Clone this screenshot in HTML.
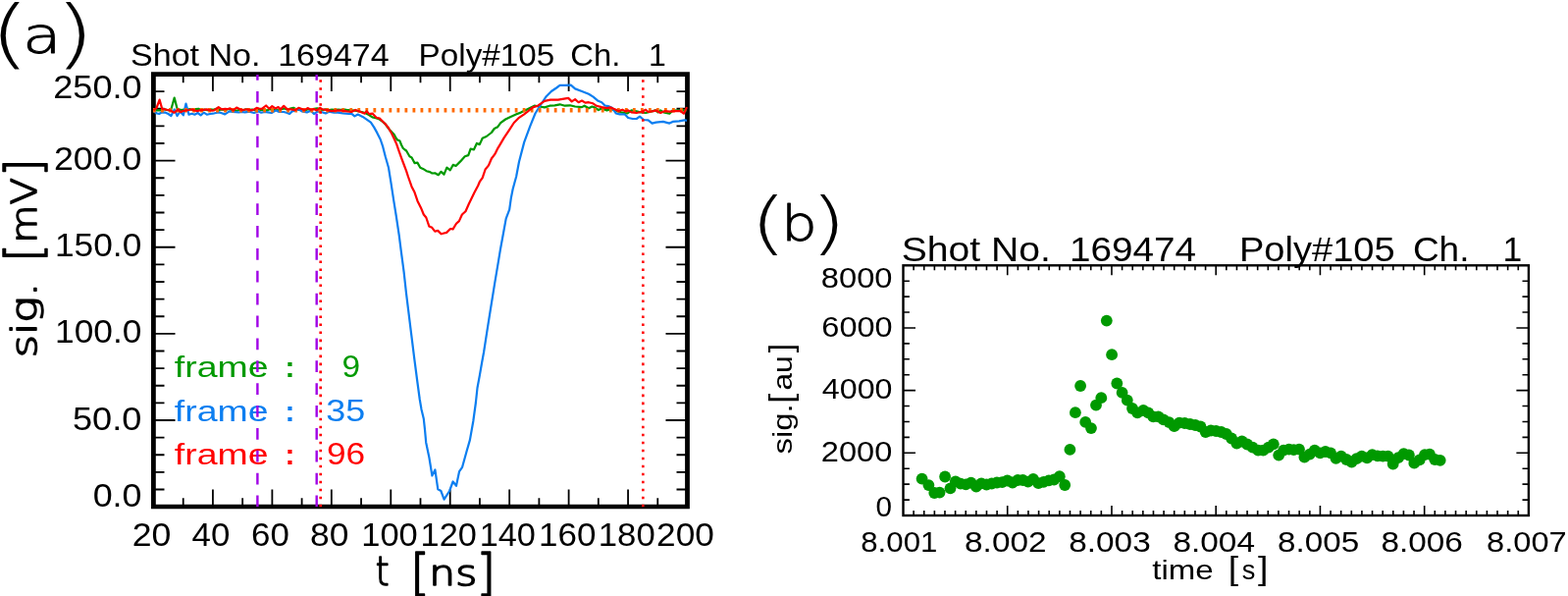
<!DOCTYPE html>
<html><head><meta charset="utf-8"><title>Shot No. 169474 Poly#105 Ch. 1</title>
<style>html,body{margin:0;padding:0;background:#fff;overflow:hidden}svg{display:block}</style></head>
<body><svg width="1598" height="607" viewBox="0 0 1598 607" font-family="'Liberation Sans', sans-serif">
<rect width="1598" height="607" fill="#fff"/>
<path d="M156.5 498.48H167.5M700.5 498.48H689.5M156.5 480.85H167.5M700.5 480.85H689.5M156.5 463.23H167.5M700.5 463.23H689.5M156.5 445.6H167.5M700.5 445.6H689.5M156.5 427.98H178.5M700.5 427.98H678.5M156.5 410.36H167.5M700.5 410.36H689.5M156.5 392.73H167.5M700.5 392.73H689.5M156.5 375.11H167.5M700.5 375.11H689.5M156.5 357.48H167.5M700.5 357.48H689.5M156.5 339.86H178.5M700.5 339.86H678.5M156.5 322.24H167.5M700.5 322.24H689.5M156.5 304.61H167.5M700.5 304.61H689.5M156.5 286.99H167.5M700.5 286.99H689.5M156.5 269.36H167.5M700.5 269.36H689.5M156.5 251.74H178.5M700.5 251.74H678.5M156.5 234.12H167.5M700.5 234.12H689.5M156.5 216.49H167.5M700.5 216.49H689.5M156.5 198.87H167.5M700.5 198.87H689.5M156.5 181.24H167.5M700.5 181.24H689.5M156.5 163.62H178.5M700.5 163.62H678.5M156.5 146H167.5M700.5 146H689.5M156.5 128.37H167.5M700.5 128.37H689.5M156.5 110.75H167.5M700.5 110.75H689.5M156.5 93.12H167.5M700.5 93.12H689.5M186.72 516.1V507.3M186.72 75.5V84.3M216.94 516.1V498.6M216.94 75.5V93M247.17 516.1V507.3M247.17 75.5V84.3M277.39 516.1V498.6M277.39 75.5V93M307.61 516.1V507.3M307.61 75.5V84.3M337.83 516.1V498.6M337.83 75.5V93M368.06 516.1V507.3M368.06 75.5V84.3M398.28 516.1V498.6M398.28 75.5V93M428.5 516.1V507.3M428.5 75.5V84.3M458.72 516.1V498.6M458.72 75.5V93M488.94 516.1V507.3M488.94 75.5V84.3M519.17 516.1V498.6M519.17 75.5V93M549.39 516.1V507.3M549.39 75.5V84.3M579.61 516.1V498.6M579.61 75.5V93M609.83 516.1V507.3M609.83 75.5V84.3M640.06 516.1V498.6M640.06 75.5V93M670.28 516.1V507.3M670.28 75.5V84.3" stroke="#000" stroke-width="1.8" fill="none"/>
<path d="M154 73.3h548.9v445h-548.9z M158.8 77.9v435.9h539.3v-435.9z" fill="#000" fill-rule="evenodd"/>
<path d="M931.12 525V520M931.12 270.3V275.3M941.75 525V520M941.75 270.3V275.3M952.37 525V520M952.37 270.3V275.3M962.99 525V520M962.99 270.3V275.3M973.62 525V520M973.62 270.3V275.3M984.24 525V520M984.24 270.3V275.3M994.86 525V520M994.86 270.3V275.3M1005.49 525V520M1005.49 270.3V275.3M1016.11 525V520M1016.11 270.3V275.3M1026.73 525V515M1026.73 270.3V280.3M1037.36 525V520M1037.36 270.3V275.3M1047.98 525V520M1047.98 270.3V275.3M1058.6 525V520M1058.6 270.3V275.3M1069.23 525V520M1069.23 270.3V275.3M1079.85 525V520M1079.85 270.3V275.3M1090.47 525V520M1090.47 270.3V275.3M1101.1 525V520M1101.1 270.3V275.3M1111.72 525V520M1111.72 270.3V275.3M1122.34 525V520M1122.34 270.3V275.3M1132.97 525V515M1132.97 270.3V280.3M1143.59 525V520M1143.59 270.3V275.3M1154.21 525V520M1154.21 270.3V275.3M1164.84 525V520M1164.84 270.3V275.3M1175.46 525V520M1175.46 270.3V275.3M1186.08 525V520M1186.08 270.3V275.3M1196.71 525V520M1196.71 270.3V275.3M1207.33 525V520M1207.33 270.3V275.3M1217.95 525V520M1217.95 270.3V275.3M1228.58 525V520M1228.58 270.3V275.3M1239.2 525V515M1239.2 270.3V280.3M1249.82 525V520M1249.82 270.3V275.3M1260.45 525V520M1260.45 270.3V275.3M1271.07 525V520M1271.07 270.3V275.3M1281.69 525V520M1281.69 270.3V275.3M1292.32 525V520M1292.32 270.3V275.3M1302.94 525V520M1302.94 270.3V275.3M1313.56 525V520M1313.56 270.3V275.3M1324.19 525V520M1324.19 270.3V275.3M1334.81 525V520M1334.81 270.3V275.3M1345.43 525V515M1345.43 270.3V280.3M1356.06 525V520M1356.06 270.3V275.3M1366.68 525V520M1366.68 270.3V275.3M1377.3 525V520M1377.3 270.3V275.3M1387.93 525V520M1387.93 270.3V275.3M1398.55 525V520M1398.55 270.3V275.3M1409.17 525V520M1409.17 270.3V275.3M1419.8 525V520M1419.8 270.3V275.3M1430.42 525V520M1430.42 270.3V275.3M1441.04 525V520M1441.04 270.3V275.3M1451.67 525V515M1451.67 270.3V280.3M1462.29 525V520M1462.29 270.3V275.3M1472.91 525V520M1472.91 270.3V275.3M1483.54 525V520M1483.54 270.3V275.3M1494.16 525V520M1494.16 270.3V275.3M1504.78 525V520M1504.78 270.3V275.3M1515.41 525V520M1515.41 270.3V275.3M1526.03 525V520M1526.03 270.3V275.3M1536.65 525V520M1536.65 270.3V275.3M1547.28 525V520M1547.28 270.3V275.3M920.5 509.08H926.9M1557.9 509.08H1551.5M920.5 493.16H926.9M1557.9 493.16H1551.5M920.5 477.24H926.9M1557.9 477.24H1551.5M920.5 461.32H933M1557.9 461.32H1545.4M920.5 445.41H926.9M1557.9 445.41H1551.5M920.5 429.49H926.9M1557.9 429.49H1551.5M920.5 413.57H926.9M1557.9 413.57H1551.5M920.5 397.65H933M1557.9 397.65H1545.4M920.5 381.73H926.9M1557.9 381.73H1551.5M920.5 365.81H926.9M1557.9 365.81H1551.5M920.5 349.89H926.9M1557.9 349.89H1551.5M920.5 333.98H933M1557.9 333.98H1545.4M920.5 318.06H926.9M1557.9 318.06H1551.5M920.5 302.14H926.9M1557.9 302.14H1551.5M920.5 286.22H926.9M1557.9 286.22H1551.5" stroke="#000" stroke-width="1.6" fill="none"/>
<rect x="920.5" y="270.3" width="637.4" height="254.7" fill="none" stroke="#000" stroke-width="2.4"/>
<text x="-11.21" y="60.1" font-size="76.4" font-family="DejaVu Sans" font-weight="200" textLength="42.09" lengthAdjust="spacingAndGlyphs">(</text>
<text x="23.08" y="53.6" font-size="52" font-family="DejaVu Sans" font-weight="200" stroke="#000" stroke-width="0.9" stroke-linejoin="round" textLength="39.66" lengthAdjust="spacingAndGlyphs">a</text>
<text x="55.21" y="60.1" font-size="76.4" font-family="DejaVu Sans" font-weight="200" textLength="41.83" lengthAdjust="spacingAndGlyphs">)</text>
<text x="133" y="67" font-size="32" textLength="132.51" lengthAdjust="spacingAndGlyphs">Shot No.</text>
<text x="283.18" y="67" font-size="32" textLength="113.44" lengthAdjust="spacingAndGlyphs">169474</text>
<text x="426.64" y="67" font-size="32" textLength="138.59" lengthAdjust="spacingAndGlyphs">Poly#105</text>
<text x="581.36" y="67" font-size="32" textLength="50.99" lengthAdjust="spacingAndGlyphs">Ch.</text>
<text x="661.06" y="67" font-size="32">1</text>
<text x="54.3" y="100.4" font-size="32.5" textLength="90.24" lengthAdjust="spacingAndGlyphs">250.0</text>
<text x="54.91" y="173.2" font-size="32.5" textLength="89.61" lengthAdjust="spacingAndGlyphs">200.0</text>
<text x="55.98" y="261.2" font-size="32.5" textLength="88.32" lengthAdjust="spacingAndGlyphs">150.0</text>
<text x="56.08" y="349.3" font-size="32.5" textLength="88.32" lengthAdjust="spacingAndGlyphs">100.0</text>
<text x="73.95" y="437.6" font-size="32.5" textLength="70.36" lengthAdjust="spacingAndGlyphs">50.0</text>
<text x="94.66" y="516.4" font-size="32.5" textLength="49.88" lengthAdjust="spacingAndGlyphs">0.0</text>
<text x="134.72" y="555.5" font-size="32.5" textLength="39.7" lengthAdjust="spacingAndGlyphs">20</text>
<text x="195.6" y="555.5" font-size="32.5" textLength="38.77" lengthAdjust="spacingAndGlyphs">40</text>
<text x="256.05" y="555.5" font-size="32.5" textLength="38.82" lengthAdjust="spacingAndGlyphs">60</text>
<text x="315.98" y="555.5" font-size="32.5" textLength="39.42" lengthAdjust="spacingAndGlyphs">80</text>
<text x="368.24" y="555.5" font-size="32.5" textLength="57.59" lengthAdjust="spacingAndGlyphs">100</text>
<text x="428.55" y="555.5" font-size="32.5" textLength="57.27" lengthAdjust="spacingAndGlyphs">120</text>
<text x="488.65" y="555.5" font-size="32.5" textLength="57.27" lengthAdjust="spacingAndGlyphs">140</text>
<text x="549.1" y="555.5" font-size="32.5" textLength="58.35" lengthAdjust="spacingAndGlyphs">160</text>
<text x="609.82" y="555.5" font-size="32.5" textLength="57.92" lengthAdjust="spacingAndGlyphs">180</text>
<text x="669.04" y="555.5" font-size="32.5" textLength="58.82" lengthAdjust="spacingAndGlyphs">200</text>
<text transform="translate(37.3 364.31) rotate(-90)" font-size="35" font-family="DejaVu Sans" font-weight="200" stroke="#000" stroke-width="1.5" stroke-linejoin="round" textLength="76.45" lengthAdjust="spacingAndGlyphs">sig.</text>
<text transform="translate(41.4 266.83) rotate(-90)" font-size="50.5" font-family="DejaVu Sans" font-weight="200" stroke="#000" stroke-width="1.5" stroke-linejoin="round" textLength="18.56" lengthAdjust="spacingAndGlyphs">[</text>
<text transform="translate(37.3 247.76) rotate(-90)" font-size="35" font-family="DejaVu Sans" font-weight="200" stroke="#000" stroke-width="1.5" stroke-linejoin="round" textLength="66.74" lengthAdjust="spacingAndGlyphs">mV</text>
<text transform="translate(41.4 179.93) rotate(-90)" font-size="50.5" font-family="DejaVu Sans" font-weight="200" stroke="#000" stroke-width="1.5" stroke-linejoin="round" textLength="18.56" lengthAdjust="spacingAndGlyphs">]</text>
<text x="382.78" y="596.4" font-size="41" font-family="DejaVu Sans" font-weight="200" stroke="#000" stroke-width="1.5" stroke-linejoin="round" textLength="13.87" lengthAdjust="spacingAndGlyphs">t</text>
<text x="417.99" y="600.2" font-size="50.5" font-family="DejaVu Sans" font-weight="200" stroke="#000" stroke-width="1.5" stroke-linejoin="round" textLength="20.12" lengthAdjust="spacingAndGlyphs">[</text>
<text x="437.36" y="596.4" font-size="35" font-family="DejaVu Sans" font-weight="200" stroke="#000" stroke-width="1.5" stroke-linejoin="round" textLength="48.8" lengthAdjust="spacingAndGlyphs">ns</text>
<text x="485.39" y="600.2" font-size="50.5" font-family="DejaVu Sans" font-weight="200" stroke="#000" stroke-width="1.5" stroke-linejoin="round" textLength="20.12" lengthAdjust="spacingAndGlyphs">]</text>
<text x="177.83" y="384.4" font-size="29.7" textLength="95.81" lengthAdjust="spacingAndGlyphs" fill="#009900">frame</text>
<text x="290.55" y="384.4" font-size="29.7" font-weight="bold" fill="#009900">:</text>
<text x="348.53" y="384.4" font-size="32" textLength="18.62" lengthAdjust="spacingAndGlyphs" fill="#009900">9</text>
<text x="177.83" y="428.5" font-size="29.7" textLength="95.81" lengthAdjust="spacingAndGlyphs" fill="#0C7EF0">frame</text>
<text x="290.55" y="428.5" font-size="29.7" font-weight="bold" fill="#0C7EF0">:</text>
<text x="332.26" y="428.5" font-size="32" textLength="39.96" lengthAdjust="spacingAndGlyphs" fill="#0C7EF0">35</text>
<text x="177.83" y="472.8" font-size="29.7" textLength="95.81" lengthAdjust="spacingAndGlyphs" fill="#FF0000">frame</text>
<text x="290.55" y="472.8" font-size="29.7" font-weight="bold" fill="#FF0000">:</text>
<text x="332.94" y="472.8" font-size="32" textLength="39.26" lengthAdjust="spacingAndGlyphs" fill="#FF0000">96</text>
<text x="763.5" y="251.4" font-size="70" font-family="DejaVu Sans" font-weight="200" textLength="39.02" lengthAdjust="spacingAndGlyphs">(</text>
<text x="796.16" y="245.3" font-size="50" font-family="DejaVu Sans" font-weight="200" stroke="#000" stroke-width="1" stroke-linejoin="round" textLength="36.43" lengthAdjust="spacingAndGlyphs">b</text>
<text x="825.24" y="251.4" font-size="70" font-family="DejaVu Sans" font-weight="200" textLength="38.15" lengthAdjust="spacingAndGlyphs">)</text>
<text x="918.65" y="265.8" font-size="35.5" textLength="152.12" lengthAdjust="spacingAndGlyphs">Shot No.</text>
<text x="1090.11" y="265.8" font-size="35.5" textLength="128.94" lengthAdjust="spacingAndGlyphs">169474</text>
<text x="1262.95" y="265.8" font-size="35.5" textLength="158.77" lengthAdjust="spacingAndGlyphs">Poly#105</text>
<text x="1439.95" y="265.8" font-size="35.5" textLength="57.5" lengthAdjust="spacingAndGlyphs">Ch.</text>
<text x="1531.38" y="265.8" font-size="35.5">1</text>
<text x="836.79" y="292.8" font-size="29.7" textLength="72.77" lengthAdjust="spacingAndGlyphs">8000</text>
<text x="837.38" y="342.8" font-size="29.7" textLength="72.28" lengthAdjust="spacingAndGlyphs">6000</text>
<text x="837.86" y="406.3" font-size="29.7" textLength="71.68" lengthAdjust="spacingAndGlyphs">4000</text>
<text x="836.87" y="470.4" font-size="29.7" textLength="72.49" lengthAdjust="spacingAndGlyphs">2000</text>
<text x="892.41" y="525.7" font-size="29.7">0</text>
<text x="877.25" y="561.8" font-size="29.7" textLength="78.09" lengthAdjust="spacingAndGlyphs">8.001</text>
<text x="983.07" y="561.8" font-size="29.7" textLength="83.49" lengthAdjust="spacingAndGlyphs">8.002</text>
<text x="1089.27" y="561.8" font-size="29.7" textLength="83.45" lengthAdjust="spacingAndGlyphs">8.003</text>
<text x="1195.47" y="561.8" font-size="29.7" textLength="83.52" lengthAdjust="spacingAndGlyphs">8.004</text>
<text x="1302.07" y="561.8" font-size="29.7" textLength="83.04" lengthAdjust="spacingAndGlyphs">8.005</text>
<text x="1407.47" y="561.8" font-size="29.7" textLength="83.45" lengthAdjust="spacingAndGlyphs">8.006</text>
<text x="1515.1" y="561.8" font-size="29.7" textLength="81.62" lengthAdjust="spacingAndGlyphs">8.007</text>
<text transform="translate(806.7 462.59) rotate(-90)" font-size="28.3" textLength="51.26" lengthAdjust="spacingAndGlyphs">sig.</text>
<text transform="translate(806.7 411.02) rotate(-90)" font-size="33.7" textLength="10.42" lengthAdjust="spacingAndGlyphs">[</text>
<text transform="translate(806.7 397.57) rotate(-90)" font-size="28.3" textLength="35.26" lengthAdjust="spacingAndGlyphs">au</text>
<text transform="translate(806.7 359.15) rotate(-90)" font-size="33.7" textLength="9.59" lengthAdjust="spacingAndGlyphs">]</text>
<text x="1174.34" y="589.9" font-size="27.2" textLength="62.39" lengthAdjust="spacingAndGlyphs">time</text>
<text x="1251.78" y="589.9" font-size="33.5" textLength="10.42" lengthAdjust="spacingAndGlyphs">[</text>
<text x="1265.78" y="589.9" font-size="27.2">s</text>
<text x="1282.12" y="589.9" font-size="33.5" textLength="10.42" lengthAdjust="spacingAndGlyphs">]</text>
<polyline points="156.5,112.4 159.6,112.4 162.9,112.4 166.8,111.1 170,112 174,112.7 177.7,99.6 180.6,110.8 184.6,112.1 187.6,111.5 190.5,111.8 193.6,111.2 196.6,112 199.6,111 202.3,110.8 205.4,112.5 208.4,111.6 211.4,112.3 214.4,111.2 217.5,111.9 220.5,110.9 223.5,112 226.5,111.4 229.6,112.3 232.6,111 235.6,111.8 238.6,112.4 241.6,112.7 244.7,111.6 247.7,112.2 250.7,111.3 253.7,112 256.8,111.5 259.8,112.2 262.8,111.2 265.8,112 268.8,111.6 271.9,112.5 274.9,111.3 277.9,112 280.9,111.8 284,112.4 287,111.1 290,110.5 293,111.8 296,110.5 299.1,109.8 302.1,111.4 305.1,112 308.1,111.3 311.2,112.2 314.2,111.2 317.2,111.9 320.2,110.8 323.2,110.4 326.3,111.6 329.3,111.9 332.3,111.2 335.3,112.1 338.4,111.5 341.4,112 344.4,111.5 347.4,111.9 350.4,111.5 353.2,111.9 358,112.3 362,112.6 366.3,113.5 369.5,114.2 372.9,115.6 376,117 379.5,119.4 383,120.2 386.1,121.1 389.5,123.5 392.7,126.3 395,129.5 397.6,132.9 399.5,134.8 401.7,137 403.5,140.5 405,142.5 407.5,143.6 409,147.5 410.8,151 412.5,152.3 414.1,153.5 417.4,159.3 419.6,160.4 422.5,166.1 425.4,165.6 428.3,170.7 431.1,171.9 434.6,174.2 438.1,175.1 440.4,176.5 443.3,176.3 446.7,178.2 449.6,174.8 452.5,177.7 455.4,170.7 458.8,173.3 461.7,167.9 464.6,169 469.2,164.4 473.8,159.2 477.3,158.1 479.6,151.7 483,152.3 485.9,146 488.8,147.1 491.7,140.8 495.7,139 500.9,135 503.8,131 507.3,129.2 510.2,125.2 515.2,121.5 520.4,118.9 526.4,116.3 530.8,114.6 536,112 541.1,109.4 544.6,107.7 549.8,108.5 555,109.4 560.2,107.7 565.4,107.3 570.6,106.3 575.7,107.7 580.9,107.3 586.1,108.5 593,109.1 595.6,107.7 600,110.3 603.4,108.5 606.6,109.6 609.9,112.1 613.2,110.4 618.4,112.4 622.4,111.1 626.4,112.1 632.9,114.4 639.5,115.4 643.5,112.4 648.7,113.4 652.7,114.4 658,115 663.2,113.7 667.9,112.4 670.5,114.4 673.1,112.4 676.4,114.4 682.3,115.7 685.6,112.4 692.2,112.7 700,112.4" fill="none" stroke="#009900" stroke-width="2.2" stroke-linejoin="round"/>
<polyline points="156.5,114 157.6,114 160,115.5 162.2,116 165,114.3 168.8,114.7 171.5,116 174.4,118 177.7,111.4 180.6,118 183.6,113.5 186.9,117.3 189.5,105.5 192.5,116.7 195.5,115.8 198.4,116.7 201.5,115 204.6,117.3 207.7,114.7 210.8,116.7 214,116 217,115.7 220,115 223.3,114.4 226,115.2 229.2,116.4 233.8,113.4 237,114 240.4,114.2 243.5,114.5 246.5,114 249.6,114.3 253,113.8 255,114 258.9,115 263.5,113.4 266.2,114.7 270,114 273,114.3 276.7,115 281.3,112.4 284.5,114 289.2,114 292,114.8 295.1,116 297.7,113.4 301,112.7 304.3,111.4 307.6,113.4 312.8,114.4 316.8,112.7 320,116 324,113.4 327.3,114 331.9,115.4 335.2,113.7 340.4,114.7 344.4,114.7 349.6,115.4 355.5,116 358.1,115.6 361.4,118.4 364.7,116.5 369.6,118.9 372.9,121.1 377.9,124.7 381.2,129.6 384.4,135.4 387.7,142 390.2,149.4 392.7,159.3 396,170.8 398.4,185.6 401.3,204.7 403.7,219.5 406.7,239.3 408.7,255.1 411.6,276.8 414,298.6 416.1,315.7 419.3,341.4 422.5,367.1 425.3,388.5 427.8,407 429.5,416.9 431.8,426.5 433,437.7 434.2,450.7 437.3,465.4 440.4,484.5 443.4,478.4 446.3,498.3 449.4,500 452.6,508.7 458.1,500 461.6,490.5 465,494.8 468.1,480.1 471.1,475.8 475.4,460.2 478.9,448.1 482.3,429 484.9,410 486.5,395 488.9,382.1 491,370 493.1,358.5 496.4,337.1 499.6,317 504.2,288.3 507.7,267.6 510,253.7 513.4,235.3 515.7,222.6 519.2,213.4 520.8,201.9 522.6,192.7 524.7,185 526.1,180 529,164.8 534.2,144.9 540.3,128.4 545.5,115.5 551.5,106 556.7,98.2 561.9,93 567.1,89.5 570.6,86.9 575.7,86.9 581.8,86.6 586.1,90.4 593,93 600,95.8 604.6,98.6 609.6,102.8 613.2,104.2 616.5,107.5 619.8,108.1 623.7,109.8 627.7,115.4 631.6,116.4 636.9,116.4 640.2,120 644.8,121 648.7,121 652,118.7 656,122 660.6,122.3 664.6,125.6 668.5,124.6 675.8,123.9 682.3,125.6 685.6,123.9 692.2,123.3 697.5,122.3 700,122.9" fill="none" stroke="#0C7EF0" stroke-width="2.2" stroke-linejoin="round"/>
<path d="M156 110h2.8v4.6h-2.8zM164.02 110h2.8v4.6h-2.8zM172.03 110h2.8v4.6h-2.8zM180.04 110h2.8v4.6h-2.8zM188.06 110h2.8v4.6h-2.8zM196.08 110h2.8v4.6h-2.8zM204.09 110h2.8v4.6h-2.8zM212.1 110h2.8v4.6h-2.8zM220.12 110h2.8v4.6h-2.8zM228.14 110h2.8v4.6h-2.8zM236.15 110h2.8v4.6h-2.8zM244.16 110h2.8v4.6h-2.8zM252.18 110h2.8v4.6h-2.8zM260.2 110h2.8v4.6h-2.8zM268.21 110h2.8v4.6h-2.8zM276.23 110h2.8v4.6h-2.8zM284.24 110h2.8v4.6h-2.8zM292.25 110h2.8v4.6h-2.8zM300.27 110h2.8v4.6h-2.8zM308.29 110h2.8v4.6h-2.8zM316.3 110h2.8v4.6h-2.8zM324.32 110h2.8v4.6h-2.8zM332.33 110h2.8v4.6h-2.8zM340.35 110h2.8v4.6h-2.8zM348.36 110h2.8v4.6h-2.8zM356.38 110h2.8v4.6h-2.8zM364.39 110h2.8v4.6h-2.8zM372.41 110h2.8v4.6h-2.8zM380.42 110h2.8v4.6h-2.8zM388.44 110h2.8v4.6h-2.8zM396.45 110h2.8v4.6h-2.8zM404.47 110h2.8v4.6h-2.8zM412.48 110h2.8v4.6h-2.8zM420.5 110h2.8v4.6h-2.8zM428.51 110h2.8v4.6h-2.8zM436.53 110h2.8v4.6h-2.8zM444.54 110h2.8v4.6h-2.8zM452.56 110h2.8v4.6h-2.8zM460.57 110h2.8v4.6h-2.8zM468.59 110h2.8v4.6h-2.8zM476.6 110h2.8v4.6h-2.8zM484.62 110h2.8v4.6h-2.8zM492.63 110h2.8v4.6h-2.8zM500.65 110h2.8v4.6h-2.8zM508.66 110h2.8v4.6h-2.8zM516.68 110h2.8v4.6h-2.8zM524.69 110h2.8v4.6h-2.8zM532.71 110h2.8v4.6h-2.8zM540.72 110h2.8v4.6h-2.8zM548.74 110h2.8v4.6h-2.8zM556.75 110h2.8v4.6h-2.8zM564.77 110h2.8v4.6h-2.8zM572.78 110h2.8v4.6h-2.8zM580.8 110h2.8v4.6h-2.8zM588.81 110h2.8v4.6h-2.8zM596.83 110h2.8v4.6h-2.8zM604.84 110h2.8v4.6h-2.8zM612.86 110h2.8v4.6h-2.8zM620.87 110h2.8v4.6h-2.8zM628.89 110h2.8v4.6h-2.8zM636.9 110h2.8v4.6h-2.8zM644.92 110h2.8v4.6h-2.8zM652.93 110h2.8v4.6h-2.8zM660.95 110h2.8v4.6h-2.8zM668.96 110h2.8v4.6h-2.8zM676.98 110h2.8v4.6h-2.8zM684.99 110h2.8v4.6h-2.8zM693 110h2.8v4.6h-2.8z" fill="#FF6A00"/>
<polyline points="156.5,112.4 159.5,110 162.6,101.6 165.2,110.8 168.1,111.4 171,112 174,112.7 177.7,114.7 181.3,111.4 183.9,114.1 186.8,113 189.8,112.4 192.5,112 195.5,111.4 198.5,112.5 201,113.1 204,112.3 207,111.8 210.8,111.4 213.5,112.2 216,112.6 218.1,112.4 222.7,109.1 226,111.4 229.5,110.8 231.5,111.2 234.5,110.4 237.8,112.4 241.1,109.5 244,111 247,112.1 250,111.5 252.2,111.4 256.2,112.4 259,111.5 261.6,109.8 264,110.5 266.8,110.8 271.1,107.5 274.4,110.8 277.3,108.1 280.6,110.4 283.6,109.1 285.9,111.4 289.2,107.8 292.5,111.1 297,111.4 301,112.1 304.3,109.8 307.6,111.1 310.2,112.1 313.5,110.1 316.8,111.8 320,111.1 322.7,112.4 326,109.8 328.6,111.4 333.8,112.1 337.8,113.1 342.4,112.7 347,112.4 349.9,112.8 353.6,113.4 358.1,114 362.2,111.9 366.3,113.5 371.3,115.6 373.7,113.2 376.2,116.1 379.5,115.6 383.6,119.8 386.9,120.6 389.8,123.5 392.7,126.3 396,130.5 399.3,136.2 401.8,141.5 404.2,146.9 406.6,153.9 409.1,160.9 411.6,167.5 414.1,174.1 416,180 419.5,189.9 422.5,195.8 425.5,204.7 429.4,212.6 431.8,218.5 434.3,221.5 437.3,230.4 440.3,231.8 443.2,235.7 446.2,234.9 449.6,238.3 452.5,237.5 455.1,236.9 459,233 461.6,233.4 465,227.8 467.9,225.1 470.9,218.5 474.5,215.2 477.8,207.7 480,203.3 483.5,196 487.1,189.2 488.8,185.2 491.7,181.1 494.6,172.5 498,168.4 500.9,161.5 504.4,156.9 507.3,151.1 510,146.6 513.5,140.6 518.7,132.8 523.8,125 529,119.8 534.2,116.3 537.7,113.7 542.9,109.4 548.1,107.7 555,102.8 561,101.6 568.8,101.6 579.2,99.9 582.7,103.4 586.1,101.1 589.6,104.2 593,102.5 596.5,104.6 600,104.2 604,105.2 607.9,107.8 613.2,109.1 618.4,110.1 622.4,109.4 627.7,111.7 630.3,113.1 634.3,111.7 637.5,113.4 640.2,112.4 643.5,114.4 648.7,115 654,113.7 658,111.7 660.6,114 665.9,113.1 668.5,112.4 673.1,115 677.7,113.1 682.3,113.7 688.3,113.1 693.5,113.1 696.8,115.7 698.8,111.7 700,109.1" fill="none" stroke="#FF0000" stroke-width="2.2" stroke-linejoin="round"/>
<path d="M261.2 76h2.4V81.73h-2.4zM261.2 92.9h2.4V104.6h-2.4zM261.2 115.77h2.4V127.47h-2.4zM261.2 138.64h2.4V150.34h-2.4zM261.2 161.51h2.4V173.21h-2.4zM261.2 184.38h2.4V196.08h-2.4zM261.2 207.25h2.4V218.95h-2.4zM261.2 230.12h2.4V241.82h-2.4zM261.2 252.99h2.4V264.69h-2.4zM261.2 275.86h2.4V287.56h-2.4zM261.2 298.73h2.4V310.43h-2.4zM261.2 321.6h2.4V333.3h-2.4zM261.2 344.47h2.4V356.17h-2.4zM261.2 367.34h2.4V379.04h-2.4zM261.2 390.21h2.4V401.91h-2.4zM261.2 413.08h2.4V424.78h-2.4zM261.2 435.95h2.4V447.65h-2.4zM261.2 458.82h2.4V470.52h-2.4zM261.2 481.69h2.4V493.39h-2.4zM261.2 504.56h2.4V516h-2.4zM321.5 76h2.4V81.73h-2.4zM321.5 92.9h2.4V104.6h-2.4zM321.5 115.77h2.4V127.47h-2.4zM321.5 138.64h2.4V150.34h-2.4zM321.5 161.51h2.4V173.21h-2.4zM321.5 184.38h2.4V196.08h-2.4zM321.5 207.25h2.4V218.95h-2.4zM321.5 230.12h2.4V241.82h-2.4zM321.5 252.99h2.4V264.69h-2.4zM321.5 275.86h2.4V287.56h-2.4zM321.5 298.73h2.4V310.43h-2.4zM321.5 321.6h2.4V333.3h-2.4zM321.5 344.47h2.4V356.17h-2.4zM321.5 367.34h2.4V379.04h-2.4zM321.5 390.21h2.4V401.91h-2.4zM321.5 413.08h2.4V424.78h-2.4zM321.5 435.95h2.4V447.65h-2.4zM321.5 458.82h2.4V470.52h-2.4zM321.5 481.69h2.4V493.39h-2.4zM321.5 504.56h2.4V516h-2.4z" fill="#A000E6"/>
<path d="M325.4 81.2h2.6v2.6h-2.6zM325.4 89.21h2.6v2.6h-2.6zM325.4 97.22h2.6v2.6h-2.6zM325.4 105.23h2.6v2.6h-2.6zM325.4 113.24h2.6v2.6h-2.6zM325.4 121.25h2.6v2.6h-2.6zM325.4 129.26h2.6v2.6h-2.6zM325.4 137.27h2.6v2.6h-2.6zM325.4 145.28h2.6v2.6h-2.6zM325.4 153.29h2.6v2.6h-2.6zM325.4 161.3h2.6v2.6h-2.6zM325.4 169.31h2.6v2.6h-2.6zM325.4 177.32h2.6v2.6h-2.6zM325.4 185.33h2.6v2.6h-2.6zM325.4 193.34h2.6v2.6h-2.6zM325.4 201.35h2.6v2.6h-2.6zM325.4 209.36h2.6v2.6h-2.6zM325.4 217.37h2.6v2.6h-2.6zM325.4 225.38h2.6v2.6h-2.6zM325.4 233.39h2.6v2.6h-2.6zM325.4 241.4h2.6v2.6h-2.6zM325.4 249.41h2.6v2.6h-2.6zM325.4 257.42h2.6v2.6h-2.6zM325.4 265.43h2.6v2.6h-2.6zM325.4 273.44h2.6v2.6h-2.6zM325.4 281.45h2.6v2.6h-2.6zM325.4 289.46h2.6v2.6h-2.6zM325.4 297.47h2.6v2.6h-2.6zM325.4 305.48h2.6v2.6h-2.6zM325.4 313.49h2.6v2.6h-2.6zM325.4 321.5h2.6v2.6h-2.6zM325.4 329.51h2.6v2.6h-2.6zM325.4 337.52h2.6v2.6h-2.6zM325.4 345.53h2.6v2.6h-2.6zM325.4 353.54h2.6v2.6h-2.6zM325.4 361.55h2.6v2.6h-2.6zM325.4 369.56h2.6v2.6h-2.6zM325.4 377.57h2.6v2.6h-2.6zM325.4 385.58h2.6v2.6h-2.6zM325.4 393.59h2.6v2.6h-2.6zM325.4 401.6h2.6v2.6h-2.6zM325.4 409.61h2.6v2.6h-2.6zM325.4 417.62h2.6v2.6h-2.6zM325.4 425.63h2.6v2.6h-2.6zM325.4 433.64h2.6v2.6h-2.6zM325.4 441.65h2.6v2.6h-2.6zM325.4 449.66h2.6v2.6h-2.6zM325.4 457.67h2.6v2.6h-2.6zM325.4 465.68h2.6v2.6h-2.6zM325.4 473.69h2.6v2.6h-2.6zM325.4 481.7h2.6v2.6h-2.6zM325.4 489.71h2.6v2.6h-2.6zM325.4 497.72h2.6v2.6h-2.6zM325.4 505.73h2.6v2.6h-2.6zM325.4 513.74h2.6v2.6h-2.6zM654 81.2h2.6v2.6h-2.6zM654 89.21h2.6v2.6h-2.6zM654 97.22h2.6v2.6h-2.6zM654 105.23h2.6v2.6h-2.6zM654 113.24h2.6v2.6h-2.6zM654 121.25h2.6v2.6h-2.6zM654 129.26h2.6v2.6h-2.6zM654 137.27h2.6v2.6h-2.6zM654 145.28h2.6v2.6h-2.6zM654 153.29h2.6v2.6h-2.6zM654 161.3h2.6v2.6h-2.6zM654 169.31h2.6v2.6h-2.6zM654 177.32h2.6v2.6h-2.6zM654 185.33h2.6v2.6h-2.6zM654 193.34h2.6v2.6h-2.6zM654 201.35h2.6v2.6h-2.6zM654 209.36h2.6v2.6h-2.6zM654 217.37h2.6v2.6h-2.6zM654 225.38h2.6v2.6h-2.6zM654 233.39h2.6v2.6h-2.6zM654 241.4h2.6v2.6h-2.6zM654 249.41h2.6v2.6h-2.6zM654 257.42h2.6v2.6h-2.6zM654 265.43h2.6v2.6h-2.6zM654 273.44h2.6v2.6h-2.6zM654 281.45h2.6v2.6h-2.6zM654 289.46h2.6v2.6h-2.6zM654 297.47h2.6v2.6h-2.6zM654 305.48h2.6v2.6h-2.6zM654 313.49h2.6v2.6h-2.6zM654 321.5h2.6v2.6h-2.6zM654 329.51h2.6v2.6h-2.6zM654 337.52h2.6v2.6h-2.6zM654 345.53h2.6v2.6h-2.6zM654 353.54h2.6v2.6h-2.6zM654 361.55h2.6v2.6h-2.6zM654 369.56h2.6v2.6h-2.6zM654 377.57h2.6v2.6h-2.6zM654 385.58h2.6v2.6h-2.6zM654 393.59h2.6v2.6h-2.6zM654 401.6h2.6v2.6h-2.6zM654 409.61h2.6v2.6h-2.6zM654 417.62h2.6v2.6h-2.6zM654 425.63h2.6v2.6h-2.6zM654 433.64h2.6v2.6h-2.6zM654 441.65h2.6v2.6h-2.6zM654 449.66h2.6v2.6h-2.6zM654 457.67h2.6v2.6h-2.6zM654 465.68h2.6v2.6h-2.6zM654 473.69h2.6v2.6h-2.6zM654 481.7h2.6v2.6h-2.6zM654 489.71h2.6v2.6h-2.6zM654 497.72h2.6v2.6h-2.6zM654 505.73h2.6v2.6h-2.6zM654 513.74h2.6v2.6h-2.6z" fill="#FF0000"/>
<g fill="#009900"><circle cx="939.6" cy="487.7" r="5.9"/><circle cx="946.4" cy="494.1" r="5.9"/><circle cx="952.3" cy="502" r="5.9"/><circle cx="957.6" cy="501.6" r="5.9"/><circle cx="963.1" cy="485.5" r="5.9"/><circle cx="968.5" cy="497.3" r="5.9"/><circle cx="973.8" cy="490.4" r="5.9"/><circle cx="979" cy="492.7" r="5.9"/><circle cx="984.3" cy="493.4" r="5.9"/><circle cx="989.6" cy="491.7" r="5.9"/><circle cx="994.9" cy="495.7" r="5.9"/><circle cx="1000.1" cy="492.4" r="5.9"/><circle cx="1005.4" cy="493.5" r="5.9"/><circle cx="1010.7" cy="492.5" r="5.9"/><circle cx="1016" cy="491.5" r="5.9"/><circle cx="1021.3" cy="491.2" r="5.9"/><circle cx="1026.6" cy="489.5" r="5.9"/><circle cx="1031.9" cy="491.5" r="5.9"/><circle cx="1037.2" cy="489" r="5.9"/><circle cx="1042.4" cy="489" r="5.9"/><circle cx="1047.7" cy="490.6" r="5.9"/><circle cx="1053" cy="488" r="5.9"/><circle cx="1058.3" cy="492.2" r="5.9"/><circle cx="1063.6" cy="490.8" r="5.9"/><circle cx="1068.9" cy="489.4" r="5.9"/><circle cx="1074.2" cy="488.5" r="5.9"/><circle cx="1079.8" cy="485.2" r="5.9"/><circle cx="1085.2" cy="494" r="5.9"/><circle cx="1090.4" cy="457.9" r="5.9"/><circle cx="1095.9" cy="420.2" r="5.9"/><circle cx="1101.1" cy="393" r="5.9"/><circle cx="1106.2" cy="429.9" r="5.9"/><circle cx="1112" cy="436.1" r="5.9"/><circle cx="1117" cy="412.6" r="5.9"/><circle cx="1122.3" cy="405.2" r="5.9"/><circle cx="1127.8" cy="326.6" r="5.9"/><circle cx="1133.1" cy="361.2" r="5.9"/><circle cx="1138.3" cy="390.5" r="5.9"/><circle cx="1143.6" cy="399.9" r="5.9"/><circle cx="1148.8" cy="407.7" r="5.9"/><circle cx="1154" cy="416" r="5.9"/><circle cx="1159.2" cy="420.3" r="5.9"/><circle cx="1165.2" cy="418" r="5.9"/><circle cx="1170.2" cy="420.3" r="5.9"/><circle cx="1175.3" cy="424.4" r="5.9"/><circle cx="1180.5" cy="424.4" r="5.9"/><circle cx="1185.7" cy="427.3" r="5.9"/><circle cx="1191.5" cy="430.1" r="5.9"/><circle cx="1196.7" cy="434.2" r="5.9"/><circle cx="1201.9" cy="430.7" r="5.9"/><circle cx="1207.4" cy="431" r="5.9"/><circle cx="1212.9" cy="432" r="5.9"/><circle cx="1218.2" cy="433" r="5.9"/><circle cx="1223.5" cy="434.5" r="5.9"/><circle cx="1228.7" cy="440" r="5.9"/><circle cx="1234" cy="438.5" r="5.9"/><circle cx="1239.3" cy="439" r="5.9"/><circle cx="1244.6" cy="440" r="5.9"/><circle cx="1249.8" cy="442" r="5.9"/><circle cx="1255.1" cy="446.5" r="5.9"/><circle cx="1260.4" cy="451.5" r="5.9"/><circle cx="1265.7" cy="449.5" r="5.9"/><circle cx="1271" cy="452.5" r="5.9"/><circle cx="1276.6" cy="455.7" r="5.9"/><circle cx="1282.2" cy="458.7" r="5.9"/><circle cx="1287.4" cy="458.7" r="5.9"/><circle cx="1292.8" cy="455.7" r="5.9"/><circle cx="1297.8" cy="452.3" r="5.9"/><circle cx="1303.2" cy="463.6" r="5.9"/><circle cx="1308.1" cy="458.7" r="5.9"/><circle cx="1313.6" cy="457.7" r="5.9"/><circle cx="1318.5" cy="458.2" r="5.9"/><circle cx="1324" cy="457.7" r="5.9"/><circle cx="1329.4" cy="465.6" r="5.9"/><circle cx="1334.8" cy="462.6" r="5.9"/><circle cx="1339.8" cy="458.7" r="5.9"/><circle cx="1345.4" cy="461.3" r="5.9"/><circle cx="1350.8" cy="460" r="5.9"/><circle cx="1356.1" cy="461.4" r="5.9"/><circle cx="1361.5" cy="466.8" r="5.9"/><circle cx="1366.8" cy="464.7" r="5.9"/><circle cx="1372.2" cy="468" r="5.9"/><circle cx="1377.5" cy="470.5" r="5.9"/><circle cx="1382.5" cy="467.2" r="5.9"/><circle cx="1387.8" cy="464.7" r="5.9"/><circle cx="1393.2" cy="466.4" r="5.9"/><circle cx="1398.5" cy="463.1" r="5.9"/><circle cx="1403.9" cy="464.3" r="5.9"/><circle cx="1409.3" cy="464.7" r="5.9"/><circle cx="1414.6" cy="464.7" r="5.9"/><circle cx="1419.7" cy="472.5" r="5.9"/><circle cx="1425" cy="466.2" r="5.9"/><circle cx="1430.6" cy="462.2" r="5.9"/><circle cx="1435.9" cy="463.5" r="5.9"/><circle cx="1441.3" cy="471.7" r="5.9"/><circle cx="1446.7" cy="468.4" r="5.9"/><circle cx="1452" cy="463.1" r="5.9"/><circle cx="1457" cy="462.7" r="5.9"/><circle cx="1462.3" cy="468" r="5.9"/><circle cx="1467.7" cy="468.8" r="5.9"/></g>
</svg></body></html>
